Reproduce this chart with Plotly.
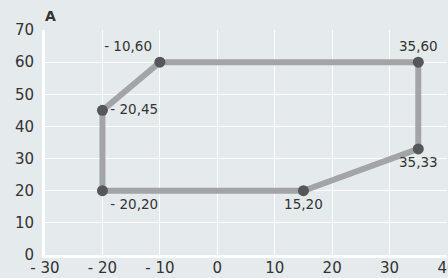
import plotly.graph_objects as go

xs = [-20, -20, -10, 35, 35, 15]
ys = [20, 45, 60, 60, 33, 20]
labels = ["- 20,20", "- 20,45", "- 10,60", "35,60", "35,33", "15,20"]
label_pos = ["bottom right", "middle right", "top left", "top center", "bottom center", "bottom center"]

x_ticks = [-30, -20, -10, 0, 10, 20, 30, 40]
x_tick_text = ["- 30", "- 20", "- 10", "0", "10", "20", "30", "40"]
y_ticks = [0, 10, 20, 30, 40, 50, 60, 70]

bg = "#e5eaed"
font = "DejaVu Sans, sans-serif"

fig = go.Figure()
fig.add_trace(go.Scatter(
    x=xs + [xs[0]], y=ys + [ys[0]], mode="lines",
    line=dict(color="#a2a4a5", width=6), hoverinfo="skip", showlegend=False))
fig.add_trace(go.Scatter(
    x=xs, y=ys, mode="markers+text", text=labels, textposition=label_pos,
    textfont=dict(size=13.5, color="#333333", family=font),
    marker=dict(color="#555758", size=11), showlegend=False, cliponaxis=False))

fig.update_layout(
    width=448, height=278,
    margin=dict(l=45, r=1, t=30, b=23, autoexpand=False),
    paper_bgcolor=bg, plot_bgcolor=bg,
    font=dict(family=font, size=15, color="#333333"),
    xaxis=dict(range=[-30, 40], tickvals=x_ticks, ticktext=x_tick_text,
               showgrid=True, gridcolor="white", gridwidth=1, automargin=False,
               zeroline=False, showline=True, linecolor="white", linewidth=3,
               ticks="", ticklabelstandoff=-3, ticklabeloverflow="allow"),
    yaxis=dict(range=[0, 70], tickvals=y_ticks, automargin=False,
               showgrid=True, gridcolor="white", gridwidth=1,
               zeroline=False, showline=True, linecolor="white", linewidth=3,
               ticks="outside", ticklen=5, tickcolor="rgba(0,0,0,0)"),
    annotations=[dict(text="<b>A</b>", xref="paper", yref="paper", x=0, y=1,
                      xanchor="left", yanchor="bottom", yshift=4, xshift=-2, showarrow=False,
                      font=dict(size=14, color="#333333", family=font))],
)
fig.write_html("out.html", config={"displayModeBar": False},
               post_script="document.body.style.margin='0';document.body.style.overflow='hidden';")
